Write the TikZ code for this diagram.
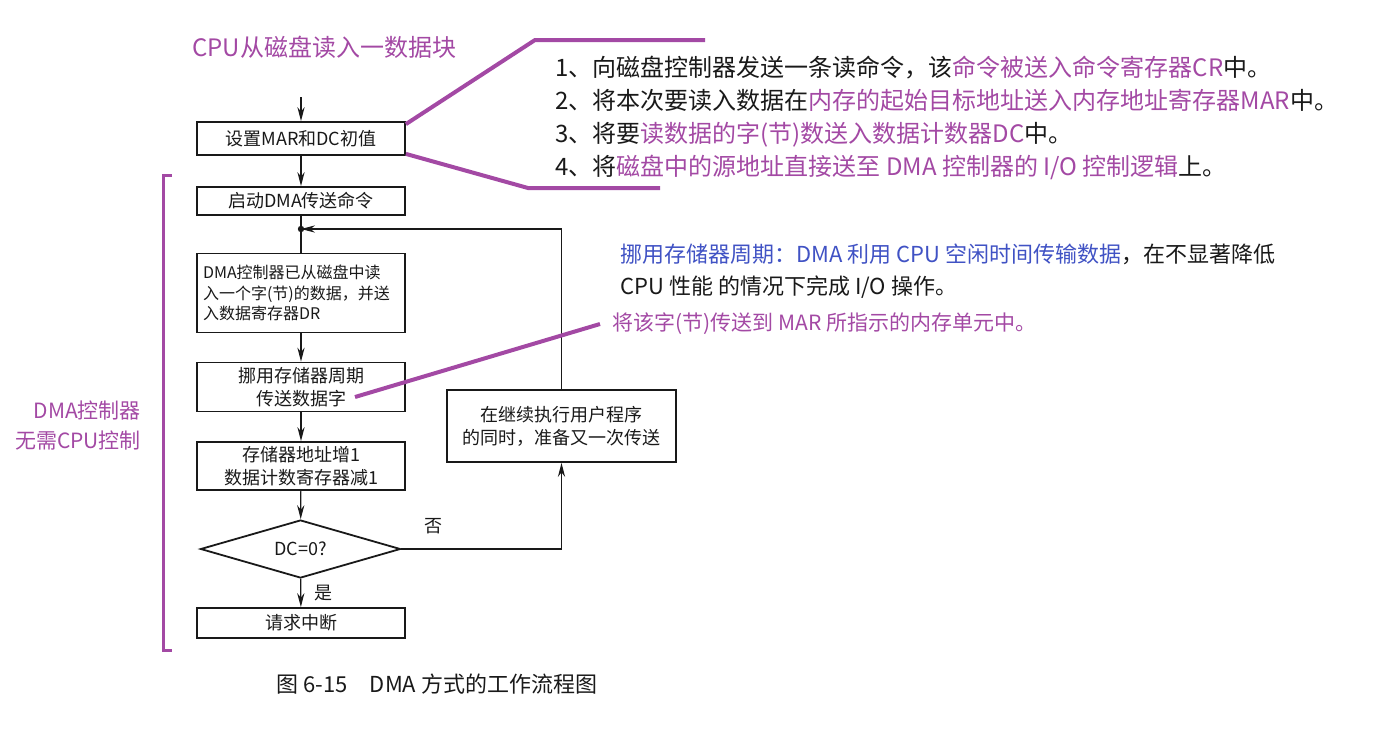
\documentclass[tikz,border=0pt]{standalone}
\usepackage{fontspec}
\setmainfont{Noto Sans CJK SC}
\usetikzlibrary{arrows.meta,shapes.geometric}
\definecolor{NotePurple}{RGB}{163,73,164}
\definecolor{NoteBlue}{RGB}{64,82,196}
\definecolor{InkGrey}{RGB}{25,25,25}

\begin{document}
\begin{tikzpicture}[x=0.5pt,y=-0.5pt,
    flowbox/.style={draw=InkGrey,line width=0.9pt,minimum width=104pt,inner sep=2pt,
        align=center,text=InkGrey,font=\fontsize{9}{11.5}\selectfont},
    decision/.style={draw=InkGrey,line width=0.9pt,diamond,shape aspect=3.4,inner sep=1pt,
        minimum width=100pt,minimum height=29pt,text=InkGrey,font=\fontsize{9}{11}\selectfont},
    arr/.style={draw=InkGrey,line width=0.6pt,-{Stealth[length=7pt,width=3.6pt]}},
    flow/.style={draw=InkGrey,line width=0.6pt},
    callout/.style={draw=NotePurple,line width=2pt},
    note/.style={align=left,anchor=west,inner sep=0pt}]
    \useasboundingbox (0,0) rectangle (1387,730);
    % title and caption
    \node[note,text=NotePurple,font=\fontsize{12}{14}\selectfont] (title) at (192,47) {CPU从磁盘读入一数据块};
    \node[text=InkGrey,font=\fontsize{11}{13}\selectfont] (caption) at (437,684) {图 6-15\quad DMA 方式的工作流程图};
    % main flow
    \coordinate (entry) at (301,97);
    \node[flowbox,minimum height=16.5pt] (setreg) at (301,138.5) {设置MAR和DC初值};
    \node[flowbox,minimum height=14pt] (startdma) at (301,201) {启动DMA传送命令};
    \coordinate (join) at (301,229);
    \node[flowbox,minimum height=39.5pt,text width=98pt,align=left,
        font=\fontsize{8}{10.3}\selectfont] (readword) at (301,293)
        {DMA控制器已从磁盘中读\\入一个字(节)的数据，并送\\入数据寄存器DR};
    \node[flowbox,minimum height=24.5pt] (steal) at (301,387) {挪用存储器周期\\传送数据字};
    \node[flowbox,minimum height=24pt] (incr) at (301,466) {存储器地址增1\\数据计数寄存器减1};
    \node[decision] (dczero) at (300.5,549) {DC=0?};
    \node[flowbox,minimum height=15pt] (intr) at (301,623) {请求中断};
    \node[flowbox,minimum width=114.5pt,minimum height=36pt] (prepare) at (561.5,426)
        {在继续执行用户程序\\的同时，准备又一次传送};
    % connectors
    \draw[arr] (entry) -- (setreg);
    \draw[arr] (setreg) -- (startdma);
    \draw[flow] (startdma) -- (readword);
    \fill[InkGrey] (join) circle (1.6pt);
    \draw[arr] (readword) -- (steal);
    \draw[arr] (steal) -- (incr);
    \draw[arr] (incr) -- (dczero);
    \draw[arr] (dczero) -- node[right=3pt,font=\fontsize{9}{11}\selectfont,text=InkGrey] {是} (intr);
    \draw[arr] (dczero.east) -- node[above=4pt,pos=0.2,font=\fontsize{9}{11}\selectfont,text=InkGrey] {否}
        (dczero.east -| prepare.south) -- (prepare.south);
    \draw[arr] (prepare.north) |- (join);
    % left bracket
    \draw[draw=NotePurple,line width=1.5pt] (172,175) -- (163,175) -- (163,650) -- (172,650);
    \node[align=right,anchor=east,text=NotePurple,font=\fontsize{10.5}{15}\selectfont] (dmalabel) at (148,425)
        {DMA控制器\\无需CPU控制};
    % right notes
    \node[note,text=InkGrey,font=\fontsize{12}{16.6}\selectfont] (steps) at (555,118)
        {1、向磁盘控制器发送一条读命令，该{\color{NotePurple}命令被送入命令寄存器CR}中。\\
         2、将本次要读入数据在{\color{NotePurple}内存的起始目标地址送入内存地址寄存器MAR}中。\\
         3、将要{\color{NotePurple}读数据的字(节)数送入数据计数器DC}中。\\
         4、将{\color{NotePurple}磁盘中的源地址直接送至 DMA 控制器的 I/O 控制逻辑}上。};
    \node[note,text=InkGrey,font=\fontsize{11}{16}\selectfont] (cycle) at (620,271)
        {{\color{NoteBlue}挪用存储器周期：DMA 利用 CPU 空闲时间传输数据}，在不显著降低\\
         CPU 性能 的情况下完成 I/O 操作。};
    \node[note,text=NotePurple,font=\fontsize{10.5}{12}\selectfont] (moveword) at (612,324)
        {将该字(节)传送到 MAR 所指示的内存单元中。};
    % purple callouts
    \coordinate (topbend) at (535,40);
    \coordinate (topend) at (705,40);
    \coordinate (lowbend) at (528,188);
    \coordinate (lowend) at (660,188);
    \coordinate (stealtip) at (355,397);
    \draw[callout] ([yshift=-1.5pt]setreg.north east) -- (topbend) -- (topend);
    \draw[callout] ([yshift=1pt]setreg.south east) -- (lowbend) -- (lowend);
    \draw[callout] (stealtip) -- ([xshift=-6pt]moveword.west);
\end{tikzpicture}
\end{document}
